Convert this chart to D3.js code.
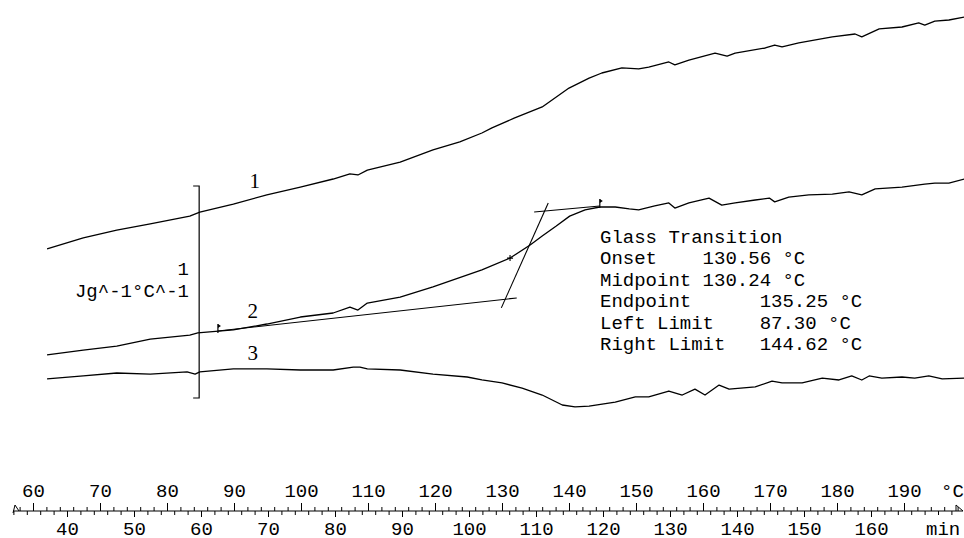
<!DOCTYPE html>
<html>
<head>
<meta charset="utf-8">
<script src="https://cdn.jsdelivr.net/npm/d3@7"></script>
<style>
body { margin: 0; background: #fff; }
svg text { font-family: "Liberation Mono", "DejaVu Sans Mono", monospace; font-size: 19px; fill: #000; white-space: pre; }
svg text.num { font-family: "Liberation Serif", "DejaVu Serif", serif; font-size: 21px; }
</style>
</head>
<body>
<svg id="chart" width="964" height="538"></svg>
<script>
// DSC traces: temperature (°C) vs heat capacity (J g^-1 °C^-1, each curve shifted)
var curve1 = [[62.1,0.703],[67.5,0.755],[72.5,0.792],[77.5,0.821],[83.4,0.858],[84.9,0.877],[89.9,0.915],
    [94.9,0.958],[99.9,0.995],[104.8,1.033],[107.3,1.057],[108.5,1.052],[109.9,1.075],[114.8,1.113],
    [119.7,1.170],[123.7,1.208],[127.0,1.250],[128.5,1.274],[131.9,1.321],[136.0,1.373],[140.0,1.462],
    [143.0,1.509],[144.9,1.533],[147.9,1.557],[150.4,1.552],[151.9,1.561],[154.9,1.585],[155.8,1.571],
    [157.9,1.594],[161.8,1.627],[163.6,1.613],[164.8,1.627],[169.3,1.651],[170.7,1.665],[171.8,1.656],
    [174.3,1.675],[179.3,1.703],[182.7,1.717],[183.7,1.703],[186.3,1.741],[189.7,1.750],[192.2,1.769],
    [193.1,1.759],[194.6,1.778],[196.7,1.783],[199.0,1.797]];

var curve2 = [[62.1,0.203],[67.5,0.226],[72.5,0.245],[77.5,0.278],[83.4,0.297],[84.6,0.307],[89.9,0.321],
    [94.9,0.349],[99.9,0.382],[104.8,0.401],[107.3,0.429],[108.5,0.415],[109.9,0.448],[114.8,0.476],
    [119.7,0.524],[127.0,0.604],[131.2,0.660],[134.2,0.722],[136.0,0.764],[138.1,0.811],[140.1,0.858],
    [142.4,0.887],[144.6,0.901],[146.9,0.901],[149.0,0.892],[150.4,0.887],[152.8,0.906],[154.9,0.920],
    [155.8,0.896],[157.9,0.920],[160.9,0.943],[162.8,0.910],[164.8,0.920],[167.8,0.934],[169.9,0.943],
    [170.7,0.925],[172.8,0.948],[175.8,0.958],[179.3,0.962],[181.8,0.972],[183.7,0.958],[185.7,0.986],
    [189.7,0.995],[193.1,1.009],[194.6,1.014],[196.7,1.014],[199.0,1.033]];

var curve3 = [[62.1,0.090],[67.5,0.104],[72.5,0.118],[77.5,0.113],[83.0,0.123],[84.2,0.113],[84.9,0.123],
    [89.9,0.137],[94.9,0.137],[99.9,0.132],[104.8,0.132],[107.8,0.146],[108.8,0.146],[109.9,0.137],
    [114.8,0.132],[119.7,0.113],[124.8,0.099],[127.0,0.085],[130.0,0.071],[133.0,0.047],[136.0,0.014],
    [139.0,-0.033],[140.9,-0.042],[143.0,-0.038],[146.9,-0.019],[149.9,0.005],[151.9,0.005],[154.9,0.033],
    [156.9,0.014],[158.8,0.042],[160.3,0.014],[162.4,0.061],[163.9,0.042],[167.8,0.052],[170.3,0.080],
    [171.8,0.071],[174.8,0.071],[177.8,0.094],[180.3,0.085],[182.2,0.104],[183.7,0.085],[184.8,0.104],
    [186.7,0.094],[189.7,0.099],[191.6,0.094],[193.7,0.104],[195.7,0.090],[199.0,0.094]];

// glass transition construction on curve 2
var baseTangent = [[87.6,0.316],[132.2,0.472]];
var steepTangent = [[129.9,0.425],[136.9,0.920]];
var topTangent = [[134.8,0.877],[144.6,0.906]];
var limitMarks = [[87.6,0.316],[144.6,0.906]];
var midMark = [131.2,0.660];

var curveNames = ["1", "2", "3"];
var curveNamePos = [[93.1,0.991],[92.8,0.377],[92.8,0.179]];

var gtLines = ["Glass Transition",
    "Onset    130.56 °C",
    "Midpoint 130.24 °C",
    "Endpoint      135.25 °C",
    "Left Limit    87.30 °C",
    "Right Limit   144.62 °C"];

var tempLabels = [60,70,80,90,100,110,120,130,140,150,160,170,180,190];
var minLabels = [40,50,60,70,80,90,100,110,120,130,140,150,160];

var svg = d3.select('#chart');

var xScale = d3.scaleLinear().domain([60, 190]).range([33, 904]);
var minScale = d3.scaleLinear().domain([40, 160]).range([67, 871]);
var yScale = d3.scaleLinear().domain([0, 1]).range([398, 186]);

var line = d3.line()
    .x(function(d) { return xScale(d[0]); })
    .y(function(d) { return yScale(d[1]); });

[curve1, curve2, curve3].forEach(function(c) {
    svg.append('path').datum(c)
        .attr('d', line)
        .attr('fill', 'none')
        .attr('stroke', '#000')
        .attr('stroke-width', 1.3)
        .attr('stroke-linejoin', 'round');
});

[baseTangent, steepTangent, topTangent].forEach(function(c) {
    svg.append('path').datum(c)
        .attr('d', line)
        .attr('fill', 'none')
        .attr('stroke', '#000')
        .attr('stroke-width', 1.1);
});

// limit flags
limitMarks.forEach(function(d) {
    var x = xScale(d[0]), y = yScale(d[1]);
    svg.append('line').attr('x1', x).attr('x2', x).attr('y1', y - 7).attr('y2', y + 2)
        .attr('stroke', '#000').attr('stroke-width', 1.2);
    svg.append('path').attr('d', 'M' + x + ',' + (y - 7) + 'l3,2l-3,2z').attr('fill', '#000');
});

// midpoint cross
var mx = xScale(midMark[0]), my = yScale(midMark[1]);
svg.append('path').attr('d', 'M' + (mx - 3) + ',' + my + 'h6M' + mx + ',' + (my - 3) + 'v6')
    .attr('stroke', '#000').attr('stroke-width', 1.1);

// scale bar: 1 J g^-1 °C^-1
var bx = xScale(84.8);
svg.append('path')
    .attr('d', 'M' + (bx - 6) + ',' + yScale(1) + 'H' + bx + 'V' + yScale(0) + 'H' + (bx - 6))
    .attr('fill', 'none').attr('stroke', '#000').attr('stroke-width', 1.2);
svg.append('text').attr('x', 189).attr('y', 275).attr('text-anchor', 'end').text('1');
svg.append('text').attr('x', 189).attr('y', 297).attr('text-anchor', 'end').text('Jg^-1°C^-1');

svg.selectAll('.num').data(curveNames).enter().append('text')
    .attr('class', 'num')
    .attr('x', function(d, i) { return xScale(curveNamePos[i][0]); })
    .attr('y', function(d, i) { return yScale(curveNamePos[i][1]); })
    .attr('text-anchor', 'middle')
    .text(function(d) { return d; });

svg.selectAll('.gt').data(gtLines).enter().append('text')
    .attr('class', 'gt')
    .attr('x', 600)
    .attr('y', function(d, i) { return 243 + i * 21.4; })
    .text(function(d) { return d; });

// dual axis: °C on top, min below
var axisY = 511;
var ax = svg.append('g').attr('transform', 'translate(0,' + axisY + ')');

ax.append('g').call(d3.axisTop(xScale).tickValues(d3.range(58, 200, 2)).tickSize(4).tickFormat(''));
ax.append('g').call(d3.axisTop(xScale).tickValues(tempLabels).tickSize(8).tickPadding(6));
ax.append('g').call(d3.axisBottom(minScale).tickValues(d3.range(32, 174, 2)).tickSize(4).tickFormat(''));
ax.append('g').call(d3.axisBottom(minScale).tickValues(minLabels).tickSize(6).tickPadding(5));

ax.selectAll('.domain').remove();
ax.selectAll('.tick line').attr('stroke', '#000');
ax.selectAll('.tick text').attr('font-family', null).attr('font-size', null);

ax.append('line').attr('x1', 13).attr('x2', 963).attr('y1', 0).attr('y2', 0)
    .attr('stroke', '#000').attr('stroke-width', 1.2);
ax.append('path').attr('d', 'M956,0V-6L963,0').attr('fill', 'none').attr('stroke', '#000');
ax.append('path').attr('d', 'M13,2L15,-6L19,0').attr('fill', 'none').attr('stroke', '#000');

svg.append('text').attr('x', 941).attr('y', 497).text('°C');
svg.append('text').attr('x', 926).attr('y', 535).text('min');
</script>
</body>
</html>
